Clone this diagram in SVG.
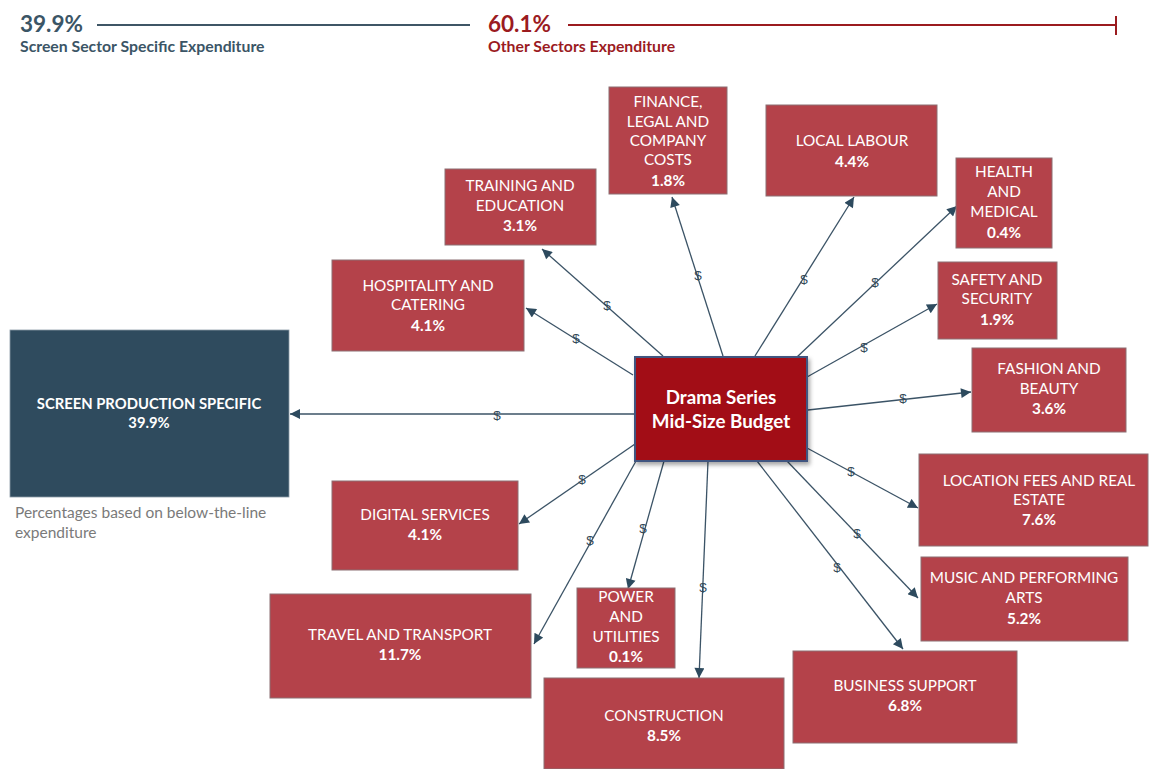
<svg xmlns="http://www.w3.org/2000/svg" width="1149" height="769" viewBox="0 0 1149 769">
<style>
.box{fill:#b4424a;stroke:#8c6f73;stroke-width:1}
.t{font-family:Lato,"Liberation Sans",sans-serif;font-size:15.3px;fill:#fff;text-anchor:middle}
.p{font-weight:bold}
.big{font-size:18.8px;font-weight:bold}
.sp{font-size:14.8px;font-weight:bold}
.c{stroke:#3b5366;stroke-width:1.3;fill:none;marker-end:url(#ah)}
.d{font-family:"Liberation Sans",Arial,sans-serif;font-size:13.5px;fill:#34495a;text-anchor:middle}
.h1{font-family:Lato,"Liberation Sans",sans-serif;font-size:22.5px;font-weight:bold}
.h2{font-family:Lato,"Liberation Sans",sans-serif;font-size:15.8px;font-weight:bold}
.n{font-family:Lato,"Liberation Sans",sans-serif;font-size:15.5px;fill:#7a7a7a}
</style>
<defs>
<marker id="ah" viewBox="0 0 10 10" refX="10" refY="5" markerWidth="12" markerHeight="10" markerUnits="userSpaceOnUse" orient="auto">
<path d="M0,0 L10,5 L0,10 z" fill="#2d4a5e"/>
</marker>
<filter id="sh" x="-10%" y="-10%" width="130%" height="130%">
<feDropShadow dx="2" dy="3" stdDeviation="2" flood-color="#000" flood-opacity="0.35"/>
</filter>
</defs>
<rect width="1149" height="769" fill="#fff"/>
<g id="header">
<text class="h1" x="20" y="32" fill="#3b5566">39.9%</text>
<line x1="97" y1="25" x2="470" y2="25" stroke="#3f5666" stroke-width="2"/>
<text class="h2" x="20" y="52" fill="#3b5566">Screen Sector Specific Expenditure</text>
<text class="h1" x="488" y="32" fill="#9b1b1f">60.1%</text>
<line x1="568" y1="25" x2="1116" y2="25" stroke="#9b1b1f" stroke-width="2"/>
<line x1="1116" y1="16" x2="1116" y2="35" stroke="#9b1b1f" stroke-width="2"/>
<text class="h2" x="488" y="52" fill="#9b1b1f">Other Sectors Expenditure</text>
</g>
<g id="connectors">
<line class="c" x1="635" y1="414" x2="290" y2="414"/>
<line class="c" x1="633" y1="375" x2="526" y2="308"/>
<line class="c" x1="663" y1="356" x2="542" y2="249"/>
<line class="c" x1="723" y1="356" x2="672" y2="197"/>
<line class="c" x1="755" y1="356" x2="854" y2="197"/>
<line class="c" x1="797" y1="357" x2="957" y2="206"/>
<line class="c" x1="807" y1="377" x2="937" y2="304"/>
<line class="c" x1="808" y1="410" x2="971" y2="392"/>
<line class="c" x1="807" y1="448" x2="918" y2="508"/>
<line class="c" x1="787" y1="461" x2="918" y2="598"/>
<line class="c" x1="757" y1="461" x2="903" y2="649"/>
<line class="c" x1="708" y1="461" x2="699" y2="678"/>
<line class="c" x1="664" y1="461" x2="628" y2="589"/>
<line class="c" x1="636" y1="461" x2="534" y2="644"/>
<line class="c" x1="635" y1="444" x2="519" y2="524"/>
<text class="d" x="497" y="420">$</text>
<text class="d" x="576" y="343">$</text>
<text class="d" x="607" y="310">$</text>
<text class="d" x="698" y="280">$</text>
<text class="d" x="804" y="284">$</text>
<text class="d" x="875" y="287">$</text>
<text class="d" x="864" y="352">$</text>
<text class="d" x="903" y="403">$</text>
<text class="d" x="851" y="476">$</text>
<text class="d" x="857" y="538">$</text>
<text class="d" x="837" y="572">$</text>
<text class="d" x="703" y="592">$</text>
<text class="d" x="643" y="533">$</text>
<text class="d" x="590" y="545">$</text>
<text class="d" x="582" y="484">$</text>
</g>
<g id="center">
<rect x="635" y="357" width="172" height="104" fill="#a20c14" stroke="#3f5580" stroke-width="2" filter="url(#sh)"/>
<text class="t big" x="721" y="404">Drama Series</text>
<text class="t big" x="721" y="428">Mid-Size Budget</text>
</g>
<g id="screen">
<rect x="10" y="330" width="279" height="167" fill="#2f4b5e" stroke="#8a9aa6" stroke-width="0.8"/>
<text class="t sp" x="149" y="409">SCREEN PRODUCTION SPECIFIC</text>
<text class="t sp" x="149" y="428">39.9%</text>
</g>
<g id="note">
<text class="n" x="15" y="518">Percentages based on below-the-line</text>
<text class="n" x="15" y="538">expenditure</text>
</g>
<g id="finance">
<rect class="box" x="609" y="87" width="118" height="107"/>
<text class="t" x="668" y="107">FINANCE,</text>
<text class="t" x="668" y="127">LEGAL AND</text>
<text class="t" x="668" y="146">COMPANY</text>
<text class="t" x="668" y="165">COSTS</text>
<text class="t p" x="668" y="186">1.8%</text>
</g>
<g id="training">
<rect class="box" x="445" y="169" width="151" height="76"/>
<text class="t" x="520" y="191">TRAINING AND</text>
<text class="t" x="520" y="211">EDUCATION</text>
<text class="t p" x="520" y="231">3.1%</text>
</g>
<g id="labour">
<rect class="box" x="766" y="105" width="171" height="91"/>
<text class="t" x="852" y="146">LOCAL LABOUR</text>
<text class="t p" x="852" y="167">4.4%</text>
</g>
<g id="health">
<rect class="box" x="956" y="158" width="96" height="90"/>
<text class="t" x="1004" y="177">HEALTH</text>
<text class="t" x="1004" y="197">AND</text>
<text class="t" x="1004" y="217">MEDICAL</text>
<text class="t p" x="1004" y="238">0.4%</text>
</g>
<g id="hospitality">
<rect class="box" x="332" y="260" width="192" height="91"/>
<text class="t" x="428" y="291">HOSPITALITY AND</text>
<text class="t" x="428" y="310">CATERING</text>
<text class="t p" x="428" y="331">4.1%</text>
</g>
<g id="safety">
<rect class="box" x="938" y="262" width="119" height="77"/>
<text class="t" x="997" y="285">SAFETY AND</text>
<text class="t" x="997" y="304">SECURITY</text>
<text class="t p" x="997" y="325">1.9%</text>
</g>
<g id="fashion">
<rect class="box" x="972" y="348" width="154" height="84"/>
<text class="t" x="1049" y="374">FASHION AND</text>
<text class="t" x="1049" y="394">BEAUTY</text>
<text class="t p" x="1049" y="414">3.6%</text>
</g>
<g id="location">
<rect class="box" x="919" y="454" width="229" height="92"/>
<text class="t" x="1039" y="486">LOCATION FEES AND REAL</text>
<text class="t" x="1039" y="505">ESTATE</text>
<text class="t p" x="1039" y="525">7.6%</text>
</g>
<g id="music">
<rect class="box" x="921" y="557" width="207" height="84"/>
<text class="t" x="1024" y="583">MUSIC AND PERFORMING</text>
<text class="t" x="1024" y="603">ARTS</text>
<text class="t p" x="1024" y="624">5.2%</text>
</g>
<g id="business">
<rect class="box" x="793" y="651" width="224" height="92"/>
<text class="t" x="905" y="691">BUSINESS SUPPORT</text>
<text class="t p" x="905" y="711">6.8%</text>
</g>
<g id="construction">
<rect class="box" x="544" y="678" width="240" height="91"/>
<text class="t" x="664" y="721">CONSTRUCTION</text>
<text class="t p" x="664" y="741">8.5%</text>
</g>
<g id="power">
<rect class="box" x="577" y="588" width="98" height="80"/>
<text class="t" x="626" y="602">POWER</text>
<text class="t" x="626" y="622">AND</text>
<text class="t" x="626" y="642">UTILITIES</text>
<text class="t p" x="626" y="662">0.1%</text>
</g>
<g id="travel">
<rect class="box" x="270" y="594" width="261" height="104"/>
<text class="t" x="400" y="640">TRAVEL AND TRANSPORT</text>
<text class="t p" x="400" y="660">11.7%</text>
</g>
<g id="digital">
<rect class="box" x="332" y="481" width="186" height="89"/>
<text class="t" x="425" y="520">DIGITAL SERVICES</text>
<text class="t p" x="425" y="540">4.1%</text>
</g>
</svg>
